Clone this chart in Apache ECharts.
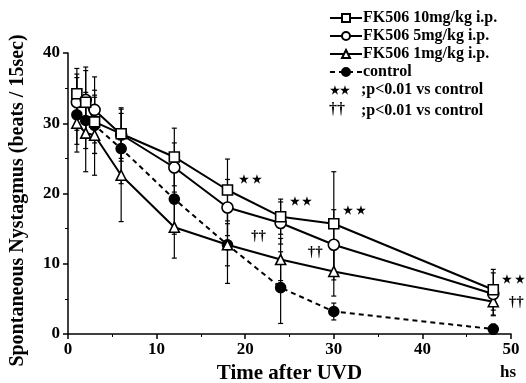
<!DOCTYPE html>
<html>
<head>
<meta charset="utf-8">
<script src="https://cdn.jsdelivr.net/npm/echarts@6/dist/echarts.min.js"></script>
<style>
  html, body { margin: 0; padding: 0; background: #fff; }
  #main { width: 526px; height: 383px; }
</style>
</head>
<body>
<div id="main"></div>
<script>
// hours after UVD
const hours = [1, 2, 3, 6, 12, 18, 24, 30, 48];

// mean values (beats / 15sec)
const fk10 = [34.2, 33.0, 30.2, 28.5, 25.2, 20.5, 16.7, 15.7, 6.3];
const fk5 = [33.0, 33.3, 31.9, 28.4, 23.7, 18.0, 15.8, 12.7, 5.7];
const fk1 = [30.0, 28.6, 28.3, 22.6, 15.2, 12.7, 10.6, 8.9, 4.6];
const control = [31.2, 30.4, 29.7, 26.4, 19.2, 12.7, 6.6, 3.2, 0.7];

// error bar half-widths
const fk10Err = [3.6, 4.5, 4.5, 3.5, 4.1, 4.4, 2.5, 7.4, 2.9];
const fk5Err = [4.0, 4.7, 4.7, 3.8, 3.5, 4.0, 3.0, 5.0, 3.0];
const fk1Err = [3.0, 5.5, 5.7, 6.6, 4.4, 3.0, 3.0, 3.5, 2.0];
const controlErr = [5.3, 4.0, 4.0, 5.0, 5.0, 5.5, 5.1, 1.2, 0.7];

// significance marks [x, y]
const starMarks = [[20.6, 21.9], [26.3, 18.8], [32.3, 17.5], [50.3, 7.7]];
const daggerMarks = [[21.5, 14.0], [27.9, 11.7], [50.6, 4.6]];

const xTicks = [0, 10, 20, 30, 40, 50];
const yTicks = [0, 10, 20, 30, 40];

const font = 'Liberation Serif';

function pairs(values) {
  return hours.map((h, i) => [h, values[i]]);
}

function errData(values, errs) {
  return hours.map((h, i) => [h, values[i] - errs[i], values[i] + errs[i]]);
}

function renderErr(params, api) {
  const x = api.value(0);
  const lo = api.coord([x, api.value(1)]);
  const hi = api.coord([x, api.value(2)]);
  const w = 2.5;
  const style = { stroke: '#000', lineWidth: 1.2 };
  return {
    type: 'group',
    children: [
      { type: 'line', shape: { x1: lo[0], y1: lo[1], x2: hi[0], y2: hi[1] }, style },
      { type: 'line', shape: { x1: lo[0] - w, y1: lo[1], x2: lo[0] + w, y2: lo[1] }, style },
      { type: 'line', shape: { x1: hi[0] - w, y1: hi[1], x2: hi[0] + w, y2: hi[1] }, style }
    ]
  };
}

function errSeries(values, errs) {
  return {
    type: 'custom',
    renderItem: renderErr,
    data: errData(values, errs),
    z: 1,
    silent: true
  };
}

function lineSeries(name, values, symbol, size, fill, dashed) {
  return {
    name: name,
    type: 'line',
    data: pairs(values),
    symbol: symbol,
    symbolSize: size,
    showAllSymbol: true,
    z: 3,
    lineStyle: { color: '#000', width: 2, type: dashed ? [5, 4] : 'solid' },
    itemStyle: { color: fill, borderColor: '#000', borderWidth: 1.6 }
  };
}

function markSeries(points, text, size) {
  return {
    type: 'scatter',
    data: points,
    symbolSize: 0,
    clip: false,
    z: 4,
    silent: true,
    itemStyle: { opacity: 1, color: '#000' },
    label: {
      show: true,
      position: 'inside',
      formatter: text,
      color: '#000',
      fontFamily: font,
      fontWeight: 'bold',
      fontSize: size
    }
  };
}

const chart = echarts.init(document.getElementById('main'));

const option = {
  backgroundColor: '#fff',
  animation: false,
  grid: { left: 68, right: 15, top: 53, bottom: 49, outerBoundsMode: 'none', containLabel: false },
  xAxis: {
    type: 'value',
    min: xTicks[0],
    max: xTicks[xTicks.length - 1],
    interval: 10,
    splitLine: { show: false },
    axisLine: { lineStyle: { color: '#000', width: 1.5 } },
    axisTick: { lineStyle: { color: '#000', width: 1.5 }, length: 5 },
    minorTick: { show: true, splitNumber: 2, length: 3, lineStyle: { color: '#000' } },
    axisLabel: { color: '#000', fontFamily: font, fontWeight: 'bold', fontSize: 17, margin: 7 },
    name: 'Time after UVD',
    nameLocation: 'middle',
    nameGap: 27,
    nameTextStyle: { color: '#000', fontFamily: font, fontWeight: 'bold', fontSize: 21 }
  },
  yAxis: {
    type: 'value',
    min: yTicks[0],
    max: yTicks[yTicks.length - 1],
    interval: 10,
    splitLine: { show: false },
    axisLine: { show: true, lineStyle: { color: '#000', width: 1.5 } },
    axisTick: { show: true, lineStyle: { color: '#000', width: 1.5 }, length: 5 },
    minorTick: { show: true, splitNumber: 2, length: 3, lineStyle: { color: '#000' } },
    axisLabel: { color: '#000', fontFamily: font, fontWeight: 'bold', fontSize: 17, margin: 8 },
    name: 'Spontaneous Nystagmus (beats / 15sec)',
    nameLocation: 'middle',
    nameGap: 40,
    nameTextStyle: { color: '#000', fontFamily: font, fontWeight: 'bold', fontSize: 20, padding: [0, 14, 0, 0] }
  },
  legend: {
    orient: 'vertical',
    left: 324,
    top: 5,
    itemWidth: 32,
    itemHeight: 10,
    itemGap: 2,
    textStyle: { color: '#000', fontFamily: font, fontWeight: 'bold', fontSize: 16, padding: [0, 0, 0, -4] },
    data: ['FK506 10mg/kg i.p.', 'FK506 5mg/kg i.p.', 'FK506 1mg/kg i.p.', 'control']
  },
  graphic: [
    { type: 'text', left: 330, top: 86, style: { text: '★★', fill: '#000', font: 'bold 11px "Liberation Serif"' } },
    { type: 'text', left: 361, top: 82, style: { text: ';p<0.01 vs control', fill: '#000', font: 'bold 16px "Liberation Serif"' } },
    { type: 'text', left: 329, top: 102, style: { text: '††', fill: '#000', font: 'bold 16px "Liberation Serif"' } },
    { type: 'text', left: 361, top: 103, style: { text: ';p<0.01 vs control', fill: '#000', font: 'bold 16px "Liberation Serif"' } },
    { type: 'text', left: 500, top: 364, style: { text: 'hs', fill: '#000', font: 'bold 17px "Liberation Serif"' } }
  ],
  series: [
    errSeries(fk10, fk10Err),
    errSeries(fk5, fk5Err),
    errSeries(fk1, fk1Err),
    errSeries(control, controlErr),
    lineSeries('control', control, 'circle', 10, '#000', true),
    lineSeries('FK506 1mg/kg i.p.', fk1, 'triangle', 10, '#fff', false),
    lineSeries('FK506 5mg/kg i.p.', fk5, 'circle', 11, '#fff', false),
    lineSeries('FK506 10mg/kg i.p.', fk10, 'rect', 10, '#fff', false),
    markSeries(starMarks, '★ ★', 11),
    markSeries(daggerMarks, '††', 15)
  ]
};

chart.setOption(option);
</script>
</body>
</html>
